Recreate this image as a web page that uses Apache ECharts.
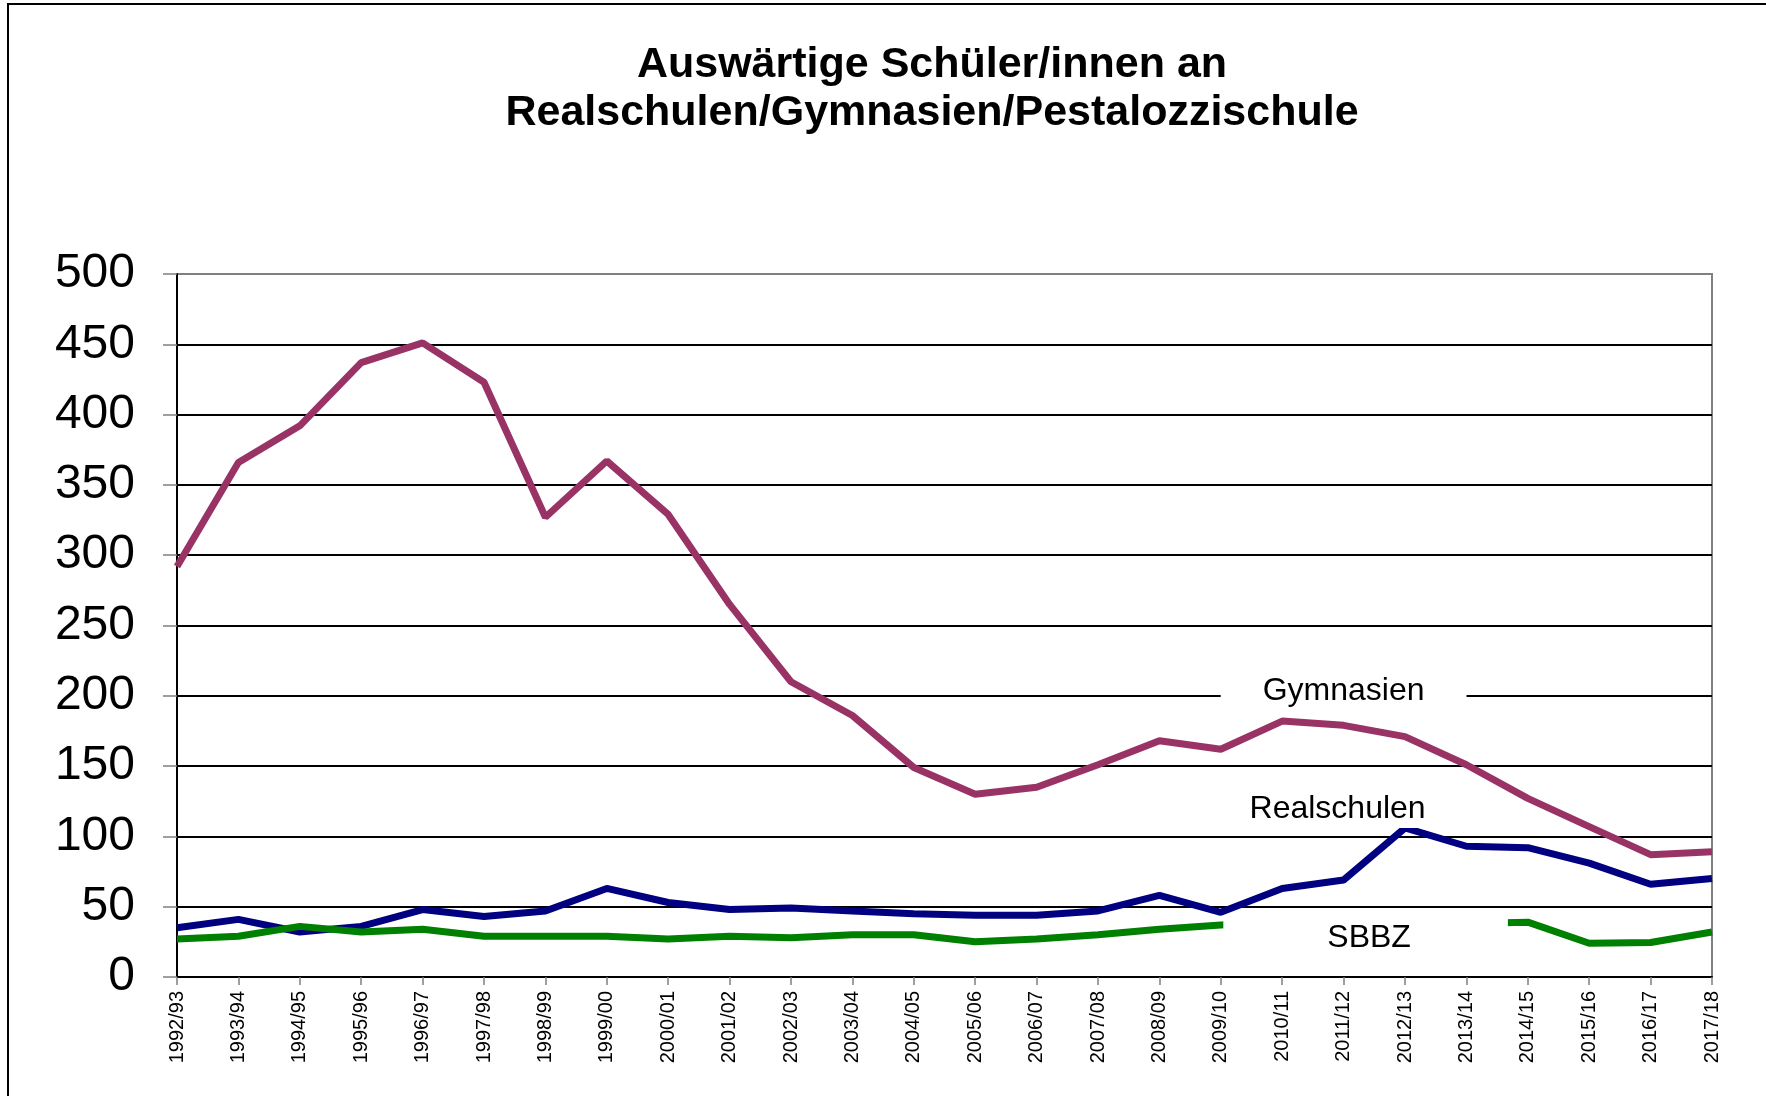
<!DOCTYPE html>
<html>
<head>
<meta charset="utf-8">
<script src="https://cdn.jsdelivr.net/npm/echarts@6/dist/echarts.min.js"></script>
<style>html,body{margin:0;padding:0;background:#fff}#c{width:1766px;height:1096px}</style>
</head>
<body>
<div id="c"></div>
<script>
const categories = ['1992/93','1993/94','1994/95','1995/96','1996/97','1997/98','1998/99','1999/00','2000/01','2001/02','2002/03','2003/04','2004/05','2005/06','2006/07','2007/08','2008/09','2009/10','2010/11','2011/12','2012/13','2013/14','2014/15','2015/16','2016/17','2017/18'];
const gymnasien = [292,366,392,437,451,423,327,367,329,265,210,186,149,130,135,151,168,162,182,179,171,151,127,107,87,89];
const realschulen = [35,41,32,36,48,43,47,63,53,48,49,47,45,44,44,47,58,46,63,69,106,93,92,81,66,70];
const sbbz = [27,29,36,32,34,29,29,29,27,29,28,30,30,25,27,30,34,37,38,38,38,38,39,24,24.5,32];
const yTicks = [0,50,100,150,200,250,300,350,400,450,500];
const titleText = 'Auswärtige Schüler/innen an\nRealschulen/Gymnasien/Pestalozzischule';
const annotations = [
  {name:'Gymnasien', x:'2011/12', y:203.5},
  {name:'Realschulen', x:'2011/12', y:119.5},
  {name:'SBBZ', x:'2011/12', y:27.5}
];

const FONT = '"Liberation Sans", Arial, sans-serif';
const chart = echarts.init(document.getElementById('c'), null, {renderer:'canvas'});
const gridColors = yTicks.map((v,i)=> i === yTicks.length-1 ? '#808080' : '#000000');
chart.setOption({
  animation:false,
  backgroundColor:'#fff',
  title:{
    text:titleText, left:927, top:36, textAlign:'center',
    textStyle:{fontFamily:FONT, fontWeight:'bold', fontSize:43, lineHeight:48, color:'#000'}
  },
  graphic:[{type:'rect', shape:{x:8, y:4, width:1800, height:1200}, style:{fill:null, stroke:'#000', lineWidth:2}, z:100, silent:true}],
  grid:{left:177, right:54, top:274, bottom:119, show:true, borderColor:'#808080', borderWidth:2},
  xAxis:{
    type:'category', data:categories, boundaryGap:false,
    axisLine:{lineStyle:{color:'#000', width:2}},
    axisTick:{show:true, length:8, lineStyle:{color:'#808080', width:1.5}},
    axisLabel:{rotate:90, fontSize:20, fontFamily:FONT, color:'#000', margin:14, interval:0},
    splitLine:{show:false}
  },
  yAxis:{
    type:'value', min:0, max:500, interval:50,
    axisLine:{show:true, lineStyle:{color:'#000', width:2}},
    axisTick:{show:true, length:14, lineStyle:{color:'#808080', width:1.5}},
    axisLabel:{fontSize:48, fontFamily:FONT, color:'#000', margin:42, padding:[6,0,0,0]},
    splitLine:{show:true, lineStyle:{color:gridColors, width:2}}
  },
  series:[
    {name:'Gymnasien', type:'line', data:gymnasien, symbol:'none', lineStyle:{color:'#993366', width:7}, itemStyle:{color:'#993366'}, z:2},
    {name:'Realschulen', type:'line', data:realschulen, symbol:'none', lineStyle:{color:'#000080', width:7}, itemStyle:{color:'#000080'}, z:3},
    {name:'SBBZ', type:'line', data:sbbz, symbol:'none', lineStyle:{color:'#008000', width:7}, itemStyle:{color:'#008000'}, z:4},
    {name:'labels', type:'line', data:categories.map(()=>null), symbol:'none', z:10,
      markPoint:{
        symbol:'rect', symbolSize:1, itemStyle:{color:'rgba(0,0,0,0)'},
        data:[
          {name:annotations[0].name, coord:[annotations[0].x, annotations[0].y],
            label:{show:true, formatter:annotations[0].name, position:'inside', fontSize:32, lineHeight:32, fontFamily:FONT, color:'#000', backgroundColor:'#fff', padding:[3,42,3,42]}},
          {name:annotations[1].name, coord:[annotations[1].x, annotations[1].y],
            label:{show:true, formatter:annotations[1].name, position:'inside', offset:[-6,0], fontSize:32, lineHeight:32, fontFamily:FONT, color:'#000', backgroundColor:'#fff', padding:[3,6,3,6]}},
          {name:annotations[2].name, coord:[annotations[2].x, annotations[2].y],
            label:{show:true, formatter:annotations[2].name, position:'inside', offset:[22,0], fontSize:32, lineHeight:32, fontFamily:FONT, color:'#000', backgroundColor:'#fff', padding:[4,97,4,104]}}
        ]
      }
    }
  ]
});
</script>
</body>
</html>
